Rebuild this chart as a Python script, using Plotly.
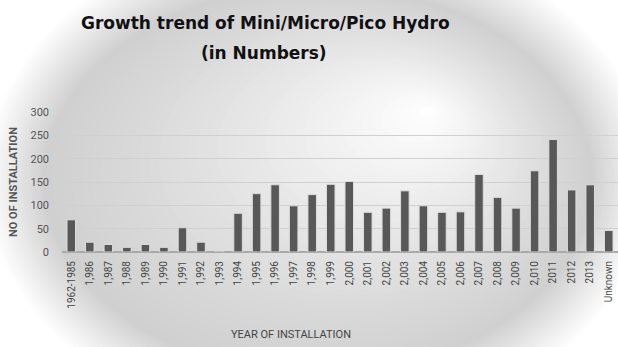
import plotly.graph_objects as go

categories = ["1962-1985", "1,986", "1,987", "1,988", "1,989", "1,990", "1,991", "1,992", "1,993",
              "1,994", "1,995", "1,996", "1,997", "1,998", "1,999", "2,000", "2,001", "2,002",
              "2,003", "2,004", "2,005", "2,006", "2,007", "2,008", "2,009", "2,010", "2011",
              "2012", "2013", "Unknown"]
values = [69, 21, 16, 10, 16, 10, 52, 21, 2, 83, 125, 144, 99, 123, 145, 151, 85, 94,
          131, 99, 85, 86, 166, 117, 94, 174, 241, 133, 144, 46]
y_ticks = [0, 50, 100, 150, 200, 250, 300]

W, H = 618, 347
ML, MR, MT, MB = 62, 0, 112, 95
PW, PH = W - ML - MR, H - MT - MB

def px2paper_x(px):
    return (px - ML) / PW

def px2paper_y(py):
    return (H - MB - py) / PH

def gray(v):
    v = int(round(max(0, min(255, v))))
    return f"rgb({v},{v},{v})"

shapes = []
cx, cy, rx, ry = 318, 180, 275, 195
fx, fy = 430, 110
edge = 208
# soft outer edge
n_out = 20
for i in range(n_out, 0, -1):
    d = i * 3.0
    frac = i / n_out
    col = edge + (255 - edge) * frac
    shapes.append(dict(type="circle", xref="paper", yref="paper", layer="below",
                       x0=px2paper_x(cx - rx - d), x1=px2paper_x(cx + rx + d),
                       y0=px2paper_y(cy + ry + d), y1=px2paper_y(cy - ry - d),
                       fillcolor=gray(col), line=dict(width=0)))
n_in = 40
for i in range(n_in):
    t = i / n_in
    ccx = cx + (fx - cx) * t
    ccy = cy + (fy - cy) * t
    rrx = rx * (1 - t)
    rry = ry * (1 - t)
    col = edge + (255 - edge) * (t ** 1.1)
    shapes.append(dict(type="circle", xref="paper", yref="paper", layer="below",
                       x0=px2paper_x(ccx - rrx), x1=px2paper_x(ccx + rrx),
                       y0=px2paper_y(ccy + rry), y1=px2paper_y(ccy - rry),
                       fillcolor=gray(col), line=dict(width=0)))

fig = go.Figure()
fig.add_trace(go.Bar(
    x=categories, y=values,
    marker=dict(color="#585858", line=dict(color="#dcdcdc", width=1)),
    width=0.46,
))

title_font = dict(family="DejaVu Sans", size=17, color="#111111")
annotations = [
    dict(text="<b>Growth trend of Mini/Micro/Pico Hydro</b>", xref="paper", yref="paper",
         x=px2paper_x(265), y=px2paper_y(23), showarrow=False, font=title_font,
         xanchor="center", yanchor="middle"),
    dict(text="<b>(in Numbers)</b>", xref="paper", yref="paper",
         x=px2paper_x(264), y=px2paper_y(53), showarrow=False, font=title_font,
         xanchor="center", yanchor="middle"),
    dict(text="<b>NO OF INSTALLATION</b>", xref="paper", yref="paper",
         x=px2paper_x(13), y=px2paper_y(182), showarrow=False, textangle=-90,
         font=dict(family="Liberation Sans Narrow, Arial Narrow, Roboto, sans-serif", size=11, color="#555555"),
         xanchor="center", yanchor="middle"),
    dict(text="YEAR OF INSTALLATION", xref="paper", yref="paper",
         x=px2paper_x(291), y=px2paper_y(334), showarrow=False,
         font=dict(family="Liberation Sans Narrow, Arial Narrow, Roboto, sans-serif", size=11, color="#444444"),
         xanchor="center", yanchor="middle"),
]

fig.update_layout(
    width=W, height=H,
    margin=dict(l=ML, r=MR, t=MT, b=MB, pad=0),
    paper_bgcolor="white",
    plot_bgcolor="rgba(0,0,0,0)",
    shapes=shapes,
    annotations=annotations,
    showlegend=False,
    xaxis=dict(
        type="category", tickangle=-90, showgrid=False, ticks="",
        tickfont=dict(family="Liberation Sans Narrow, Arial Narrow, Roboto, sans-serif", size=10, color="#444444"),
        ticklabelstandoff=6, showline=False, fixedrange=True,
    ),
    yaxis=dict(
        range=[0, 300], tickvals=y_ticks, showgrid=True, gridcolor="#d0d0d0", gridwidth=1,
        zeroline=True, zerolinecolor="#a9a9a9", zerolinewidth=2,
        tickfont=dict(family="Liberation Sans Narrow, Arial Narrow, Roboto, sans-serif", size=11, color="#555555"),
        ticklabelstandoff=12, showline=False, fixedrange=True,
    ),
)

fig.write_html("out.html")
